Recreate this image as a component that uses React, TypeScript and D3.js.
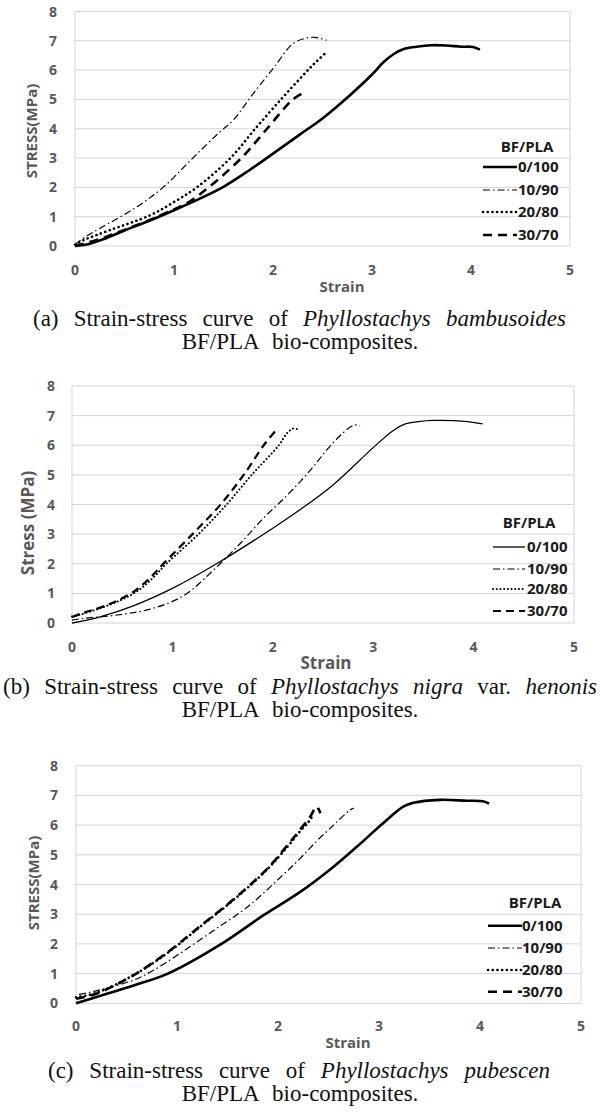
import * as d3 from "d3";
import { useLayoutEffect, useRef } from "react";

// strain / stress pairs
const a_0_100 = [[0,0],[0.12,0.05],[0.3,0.25],[0.5,0.53],[0.75,0.86],[1.0,1.22],[1.25,1.6],[1.5,2.02],[1.75,2.56],[2.0,3.15],[2.27,3.8],[2.5,4.35],[2.78,5.15],[3.0,5.85],[3.11,6.25],[3.22,6.55],[3.32,6.72],[3.45,6.8],[3.6,6.85],[3.75,6.84],[3.9,6.8],[4.02,6.79],[4.09,6.7]];
const a_10_90 = [[0,0.05],[0.1,0.3],[0.25,0.6],[0.6,1.28],[0.89,2.0],[1.19,3.0],[1.45,3.85],[1.6,4.3],[1.8,5.2],[2.0,6.05],[2.2,6.9],[2.32,7.08],[2.42,7.12],[2.54,7.02]];
const a_20_80 = [[0,0.05],[0.1,0.22],[0.35,0.54],[0.76,1.05],[1.0,1.5],[1.23,2.0],[1.57,3.0],[1.82,4.0],[2.08,5.0],[2.27,5.7],[2.41,6.2],[2.54,6.61]];
const a_30_70 = [[0,0],[0.25,0.24],[0.5,0.55],[0.75,0.88],[1.0,1.25],[1.15,1.5],[1.35,2.0],[1.68,3.0],[1.94,4.0],[2.2,5.0],[2.32,5.25]];

const b_0_100 = [[0,0],[0.28,0.21],[0.61,0.58],[1.0,1.17],[1.44,2.0],[2.0,3.2],[2.27,3.82],[2.6,4.66],[3.0,5.92],[3.2,6.5],[3.32,6.72],[3.45,6.8],[3.6,6.84],[3.94,6.8],[4.09,6.72]];
const b_10_90 = [[0,0.1],[0.1,0.15],[0.45,0.27],[0.78,0.47],[1.11,0.92],[1.41,1.79],[1.68,2.7],[1.91,3.55],[2.11,4.2],[2.28,4.8],[2.41,5.3],[2.54,5.85],[2.71,6.45],[2.81,6.68],[2.87,6.66]];
const b_20_80 = [[0,0.22],[0.1,0.3],[0.28,0.5],[0.45,0.72],[0.64,1.05],[0.8,1.5],[0.94,2.0],[1.26,3.0],[1.54,4.0],[1.79,5.0],[2.06,6.0],[2.14,6.4],[2.2,6.56],[2.24,6.55]];
const b_30_70 = [[0,0.2],[0.1,0.33],[0.28,0.52],[0.45,0.75],[0.61,1.05],[0.77,1.5],[0.91,2.0],[1.2,3.0],[1.48,4.0],[1.71,5.0],[1.91,6.0],[2.03,6.5]];

const c_0_100 = [[0,0],[0.24,0.25],[0.57,0.6],[0.91,1.0],[1.44,2.0],[1.85,2.95],[2.22,3.75],[2.55,4.6],[2.78,5.27],[3.04,6.06],[3.24,6.62],[3.34,6.75],[3.6,6.85],[3.87,6.82],[4.03,6.8],[4.09,6.72]];
const c_10_90 = [[0.03,0.3],[0.2,0.42],[0.57,0.78],[0.75,1.08],[1.03,1.68],[1.37,2.47],[1.7,3.25],[2.03,4.26],[2.22,4.88],[2.38,5.45],[2.55,6.0],[2.71,6.5],[2.75,6.57]];
const c_20_80 = [[0,0.2],[0.2,0.35],[0.57,0.95],[0.9,1.68],[1.23,2.58],[1.56,3.48],[1.89,4.5],[2.1,5.3],[2.22,5.8],[2.3,6.1],[2.35,6.35]];
const c_30_70 = [[0,0.15],[0.2,0.32],[0.57,0.95],[0.9,1.7],[1.23,2.6],[1.56,3.5],[1.89,4.52],[2.1,5.35],[2.22,5.85],[2.32,6.29],[2.38,6.62],[2.4,6.55],[2.42,6.4]];

const seriesNames = ["0/100", "10/90", "20/80", "30/70"];
const xTicks = [0, 1, 2, 3, 4, 5];
const yTicks = [0, 1, 2, 3, 4, 5, 6, 7, 8];

const AXIS_FONT = "'Open Sans', sans-serif";
const SERIF = "'Liberation Serif', 'Times New Roman', serif";

type Panel = {
  data: number[][][];
  left: number; right: number; top: number; bottom: number;
  yLabel: string; yLabelX: number; yLabelY: number; labelSize: number;
  xLabelX: number; xLabelY: number;
  yTickX: number; xTickY: number;
  legend: { titleX: number; titleY: number; rows: number[]; x1: number; x2: number; textX: number };
  thick: boolean;
  caption: { pre: string; italic1: string; mid: string; italic2: string; x1: number; x2: number; y: number };
};

const panels: Panel[] = [
  {
    data: [a_0_100, a_10_90, a_20_80, a_30_70],
    left: 75, right: 570, top: 11.5, bottom: 246,
    yLabel: "STRESS(MPa)", yLabelX: 32, yLabelY: 131, labelSize: 15,
    xLabelX: 342, xLabelY: 287,
    yTickX: 57, xTickY: 270,
    legend: { titleX: 527, titleY: 147, rows: [167, 190, 212, 235], x1: 483, x2: 517, textX: 518 },
    thick: true,
    caption: { pre: "(a) Strain-stress curve of ", italic1: "Phyllostachys bambusoides", mid: "", italic2: "", x1: 33, x2: 566, y: 326 },
  },
  {
    data: [b_0_100, b_10_90, b_20_80, b_30_70],
    left: 72, right: 574, top: 386, bottom: 623,
    yLabel: "Stress (MPa)", yLabelX: 28, yLabelY: 523, labelSize: 17,
    xLabelX: 326, xLabelY: 663,
    yTickX: 55, xTickY: 647,
    legend: { titleX: 529, titleY: 523, rows: [547, 569, 589, 611], x1: 493, x2: 525, textX: 527 },
    thick: false,
    caption: { pre: "(b) Strain-stress curve of ", italic1: "Phyllostachys nigra", mid: " var. ", italic2: "henonis", x1: 3, x2: 597, y: 694 },
  },
  {
    data: [c_0_100, c_10_90, c_20_80, c_30_70],
    left: 76, right: 581, top: 765.7, bottom: 1003.3,
    yLabel: "STRESS(MPa)", yLabelX: 34, yLabelY: 883, labelSize: 15,
    xLabelX: 348, xLabelY: 1043,
    yTickX: 58, xTickY: 1026,
    legend: { titleX: 535, titleY: 903, rows: [925.7, 948, 970, 991.7], x1: 488, x2: 522, textX: 522 },
    thick: true,
    caption: { pre: "(c) Strain-stress curve of ", italic1: "Phyllostachys pubescen", mid: "", italic2: "", x1: 48, x2: 550, y: 1078 },
  },
];

const styleFor = (i: number, thick: boolean) => {
  if (i === 0) return { width: thick ? 2.6 : 1.3, dash: "none", cap: "butt" };
  if (i === 1) return { width: 1.2, dash: "7 3 1.5 3", cap: "butt" };
  if (i === 2) return { width: thick ? 2.6 : 2, dash: thick ? "0.1 4.6" : "0.1 3.6", cap: "round" };
  return { width: thick ? 2.6 : 2.2, dash: thick ? "9 6" : "8 5", cap: "butt" };
};

const Justified = ({ x1, x2, y, size, children }: any) => {
  const ref = useRef<SVGTextElement>(null);
  useLayoutEffect(() => {
    const el = ref.current;
    if (!el) return;
    el.style.wordSpacing = "0px";
    const w = el.getComputedTextLength();
    const spaces = (el.textContent || "").split(" ").length - 1;
    if (spaces > 0) el.style.wordSpacing = `${(x2 - x1 - w) / spaces}px`;
  }, [x1, x2]);
  return (
    <text ref={ref} x={x1} y={y} fontFamily={SERIF} fontSize={size} fill="#111">
      {children}
    </text>
  );
};

const Chart = ({ p }: { p: Panel }) => {
  const x = d3.scaleLinear().domain([0, 5]).range([p.left, p.right]);
  const y = d3.scaleLinear().domain([0, 8]).range([p.bottom, p.top]);
  const line = d3
    .line<number[]>()
    .x((d) => x(d[0]))
    .y((d) => y(d[1]))
    .curve(d3.curveCatmullRom.alpha(0.5));

  return (
    <g>
      {yTicks.map((t) => (
        <line key={t} x1={p.left} x2={p.right} y1={y(t)} y2={y(t)} stroke="#d4d4d4" strokeWidth={1} />
      ))}
      <line x1={p.left} x2={p.left} y1={p.top} y2={p.bottom} stroke="#d4d4d4" />
      <line x1={p.right} x2={p.right} y1={p.top} y2={p.bottom} stroke="#d4d4d4" />
      {yTicks.map((t) => (
        <text key={t} x={p.yTickX} y={y(t)} dy="0.36em" textAnchor="end" fontFamily={AXIS_FONT}
          fontWeight="bold" fontSize={14} fill="#595959">{t}</text>
      ))}
      {xTicks.map((t) => (
        <text key={t} x={x(t)} y={p.xTickY} dy="0.36em" textAnchor="middle" fontFamily={AXIS_FONT}
          fontWeight="bold" fontSize={14} fill="#595959">{t}</text>
      ))}
      <text transform={`translate(${p.yLabelX},${p.yLabelY}) rotate(-90)`} dy="0.35em" textAnchor="middle"
        fontFamily={AXIS_FONT} fontWeight="bold" fontSize={p.labelSize} fill="#595959">{p.yLabel}</text>
      <text x={p.xLabelX} y={p.xLabelY} dy="0.35em" textAnchor="middle" fontFamily={AXIS_FONT}
        fontWeight="bold" fontSize={p.labelSize} fill="#595959">Strain</text>

      {p.data.map((s, i) => {
        const st = styleFor(i, p.thick);
        return (
          <path key={i} d={line(s) || ""} fill="none" stroke="#000" strokeWidth={st.width}
            strokeDasharray={st.dash} strokeLinecap={st.cap as any} strokeLinejoin="round" />
        );
      })}

      <text x={p.legend.titleX} y={p.legend.titleY} dy="0.36em" textAnchor="middle" fontFamily={AXIS_FONT}
        fontWeight="bold" fontSize={15} fill="#1a1a1a">BF/PLA</text>
      {seriesNames.map((n, i) => {
        const st = styleFor(i, p.thick);
        const ry = p.legend.rows[i];
        return (
          <g key={n}>
            <line x1={p.legend.x1} x2={p.legend.x2} y1={ry} y2={ry} stroke="#000" strokeWidth={st.width}
              strokeDasharray={st.dash} strokeLinecap={st.cap as any} />
            <text x={p.legend.textX} y={ry} dy="0.36em" fontFamily={AXIS_FONT} fontWeight="bold"
              fontSize={15} fill="#1a1a1a">{n}</text>
          </g>
        );
      })}

      <Justified x1={p.caption.x1} x2={p.caption.x2} y={p.caption.y} size={23}>
        {p.caption.pre}
        <tspan fontStyle="italic">{p.caption.italic1}</tspan>
        {p.caption.mid}
        {p.caption.italic2 && <tspan fontStyle="italic">{p.caption.italic2}</tspan>}
      </Justified>
      <text x={300} y={p.caption.y + 23} textAnchor="middle" fontFamily={SERIF} fontSize={23} fill="#111"
        style={{ wordSpacing: "8px" }}>BF/PLA bio-composites.</text>
    </g>
  );
};

export default function App() {
  useLayoutEffect(() => {
    document.body.style.margin = "0";
  }, []);
  return (
    <svg width={600} height={1118} style={{ display: "block", background: "#fff" }}>
      {panels.map((p, i) => (
        <Chart key={i} p={p} />
      ))}
    </svg>
  );
}
